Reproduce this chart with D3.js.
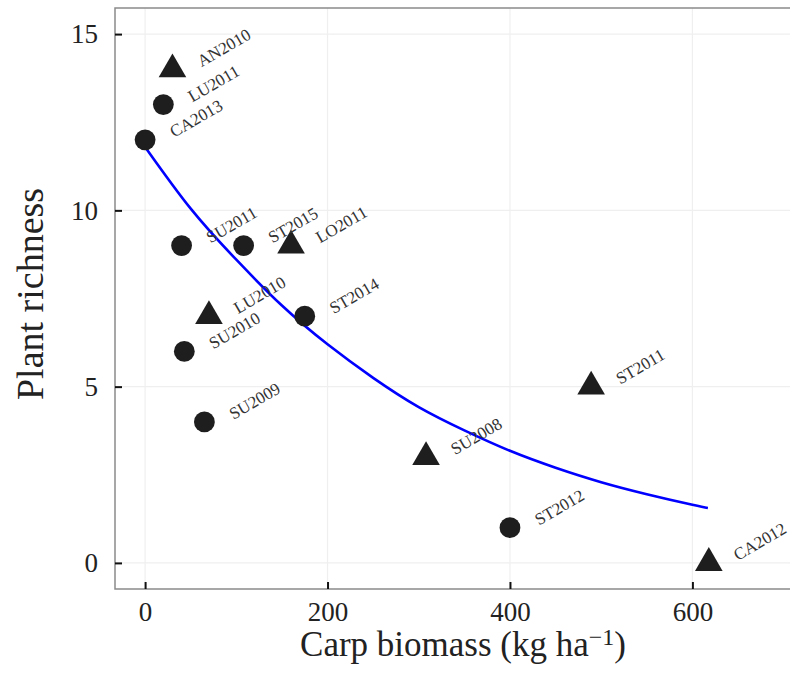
<!DOCTYPE html>
<html>
<head>
<meta charset="utf-8">
<script src="https://cdn.jsdelivr.net/npm/d3@7"></script>
<style>
  html, body { margin: 0; padding: 0; background: #fff; }
  svg text { font-family: "Liberation Serif", "DejaVu Serif", serif; }
</style>
</head>
<body>
<svg id="chart" width="790" height="674"></svg>
<script>
// ─── DATA ─────────────────────────────────────────────────────────────────────
const sites    = ['AN2010', 'LU2011', 'CA2013', 'SU2011', 'ST2015', 'LO2011', 'LU2010',
                  'ST2014', 'SU2010', 'SU2009', 'SU2008', 'ST2011', 'ST2012', 'CA2012'];
const biomass  = [30, 20, 0, 40, 108, 160, 70, 175, 43, 65, 308, 489, 400, 618];
const richness = [14, 13, 12, 9, 9, 9, 7, 7, 6, 4, 3, 5, 1, 0];
const shapes   = ['triangle', 'circle', 'circle', 'circle', 'circle', 'triangle', 'triangle',
                  'circle', 'circle', 'circle', 'triangle', 'triangle', 'circle', 'triangle'];

// fitted curve
const fitX = [0, 50, 100, 150, 200, 250, 300, 350, 400, 450, 500, 550, 600, 617];
const fitY = [11.8, 10.05, 8.6, 7.3, 6.2, 5.25, 4.42, 3.76, 3.18, 2.7, 2.29, 1.95, 1.65, 1.56];

const xTicks = [0, 200, 400, 600];
const yTicks = [0, 5, 10, 15];
// ──────────────────────────────────────────────────────────────────────────────

const svg = d3.select('#chart');

const x = d3.scaleLinear().domain([-33, 707]).range([115, 790]);
const y = d3.scaleLinear().domain([-0.74, 15.74]).range([589, 8]);

// grid
svg.append('g').selectAll('line.gx')
  .data(xTicks)
  .join('line')
  .attr('x1', (d) => x(d)).attr('x2', (d) => x(d))
  .attr('y1', y.range()[0]).attr('y2', y.range()[1])
  .attr('stroke', '#efefef').attr('stroke-width', 1.2);

svg.append('g').selectAll('line.gy')
  .data(yTicks)
  .join('line')
  .attr('y1', (d) => y(d)).attr('y2', (d) => y(d))
  .attr('x1', x.range()[0]).attr('x2', x.range()[1])
  .attr('stroke', '#efefef').attr('stroke-width', 1.2);

// frame
svg.append('rect')
  .attr('x', 115).attr('y', 8)
  .attr('width', 700).attr('height', 581)
  .attr('fill', 'none')
  .attr('stroke', '#8a8a8a')
  .attr('stroke-width', 1.5);

// axes
const xAxis = svg.append('g')
  .attr('transform', `translate(0,${y.range()[0]})`)
  .call(d3.axisBottom(x).tickValues(xTicks).tickSize(-7).tickPadding(13).tickFormat(d3.format('d')));

const yAxis = svg.append('g')
  .attr('transform', `translate(${x.range()[0]},0)`)
  .call(d3.axisLeft(y).tickValues(yTicks).tickSize(-7).tickPadding(17).tickFormat(d3.format('d')));

[xAxis, yAxis].forEach((a) => {
  a.select('.domain').remove();
  a.selectAll('.tick line').attr('stroke', '#111').attr('stroke-width', 2);
  a.selectAll('.tick text').attr('fill', '#222').style('font-size', '27px');
});

// fitted curve
const line = d3.line()
  .x((d, i) => x(fitX[i]))
  .y((d) => y(d))
  .curve(d3.curveNatural);

svg.append('path')
  .datum(fitY)
  .attr('d', line)
  .attr('fill', 'none')
  .attr('stroke', '#0000ff')
  .attr('stroke-width', 2.6);

// points
const idx = d3.range(sites.length);

svg.append('g').selectAll('path.pt')
  .data(idx)
  .join('path')
  .attr('class', 'pt')
  .attr('transform', (i) => `translate(${x(biomass[i])},${y(richness[i])})`)
  .attr('d', (i) => shapes[i] === 'triangle'
    ? d3.symbol(d3.symbolTriangle, 330)()
    : d3.symbol(d3.symbolCircle, 340)())
  .attr('fill', '#1e1e1e');

svg.append('g').selectAll('text.lbl')
  .data(idx)
  .join('text')
  .attr('class', 'lbl')
  .attr('transform', (i) => `translate(${x(biomass[i]) + 29},${y(richness[i]) - 2}) rotate(-30)`)
  .attr('fill', '#333')
  .style('font-size', '17px')
  .text((i) => sites[i]);

// axis titles
const xTitle = svg.append('text')
  .attr('x', 463).attr('y', 656)
  .attr('text-anchor', 'middle')
  .attr('fill', '#222')
  .style('font-size', '35px');
xTitle.append('tspan').text('Carp biomass (kg ha');
xTitle.append('tspan').text('\u22121').attr('dy', -11).style('font-size', '24px');
xTitle.append('tspan').text(')').attr('dy', 11);

svg.append('text')
  .attr('transform', 'translate(43,294) rotate(-90)')
  .attr('text-anchor', 'middle')
  .attr('fill', '#222')
  .style('font-size', '38px')
  .text('Plant richness');
</script>
</body>
</html>
